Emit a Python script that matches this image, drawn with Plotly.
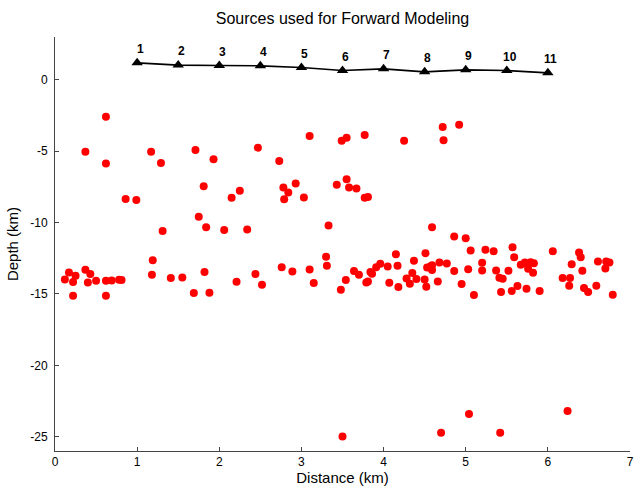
import plotly.graph_objects as go

# Source (station) positions along the surface
source_x = [1.0, 1.5, 2.0, 2.5, 3.0, 3.5, 4.0, 4.5, 5.0, 5.5, 6.0]
source_elev = [1.19, 1.03, 1.00, 0.98, 0.86, 0.65, 0.77, 0.56, 0.70, 0.65, 0.49]
source_labels = ["1", "2", "3", "4", "5", "6", "7", "8", "9", "10", "11"]

# Event (red dot) locations
event_x = [
    0.62, 0.37, 0.62, 1.17, 1.29, 1.71, 1.93, 1.81, 0.86, 0.99, 1.75, 1.84, 1.31,
    3.10, 2.47, 2.73, 3.49, 3.55, 3.77, 2.25, 2.15, 2.78, 2.84, 2.93, 2.79, 3.03,
    3.43, 3.55, 3.58, 3.67, 3.77, 3.81, 2.06, 2.34, 3.33,
    4.25, 4.72, 4.73, 4.92, 4.59, 4.86, 5.00,
    0.12, 0.17, 0.22, 0.25, 0.22, 0.37, 0.43, 0.40, 0.50, 0.62, 0.62, 0.69, 0.78,
    0.81, 1.19, 1.18, 1.41, 1.55, 1.69, 1.82, 1.88,
    2.21, 2.44, 2.52, 2.76, 2.89, 3.10, 3.15, 3.30, 3.31, 3.48, 3.54, 3.64, 3.70,
    3.79, 3.81, 3.84, 3.86, 3.91,
    3.96, 4.05, 4.07, 4.15, 4.17, 4.18, 4.28, 4.32, 4.35, 4.37, 4.40, 4.50, 4.52,
    4.51, 4.53, 4.57, 4.59, 4.59, 4.66, 4.68, 4.77, 4.86, 4.95, 5.03, 5.06, 5.10,
    5.20, 5.20, 5.24, 5.34, 5.37, 5.41, 5.45, 5.43, 5.52, 5.56, 5.57, 5.59, 5.63,
    5.67, 5.72, 5.74, 5.75, 5.76, 5.79, 5.82, 5.83,
    6.06, 6.38, 6.40, 6.29, 6.42, 6.18, 6.27, 6.26, 5.90, 6.44, 6.49, 6.59, 6.61,
    6.71, 6.75, 6.70, 6.79,
    3.50, 4.70, 5.04, 5.42, 6.24,
]
event_depth = [
    -2.58, -5.03, -5.86, -5.03, -5.82, -4.91, -5.56, -7.45, -8.35, -8.42, -9.59, -10.33, -10.59,
    -3.93, -4.75, -5.68, -4.26, -4.05, -3.86, -7.77, -8.26, -7.54, -7.89, -7.26, -8.37, -8.24,
    -7.35, -6.96, -7.54, -7.61, -8.26, -8.21, -10.52, -10.49, -10.21,
    -4.26, -3.31, -4.24, -3.14, -10.33, -10.98, -11.10,
    -13.98, -13.50, -14.17, -13.73, -15.12, -13.31, -13.61, -14.19, -14.08, -14.08, -15.12, -14.05, -14.01,
    -14.03, -12.63, -13.66, -13.89, -13.84, -14.94, -13.47, -14.91,
    -14.15, -13.61, -14.35, -13.12, -13.42, -13.28, -14.24, -12.40, -13.03, -14.70, -14.03, -13.40, -13.66,
    -14.19, -14.12, -13.47, -13.59, -13.12,
    -12.89, -13.07, -14.21, -12.21, -13.03, -14.52, -13.91, -14.28, -13.54, -12.68, -13.96, -13.98, -14.49,
    -12.14, -13.15, -13.07, -12.98, -13.33, -14.12, -12.80, -12.87, -13.40, -14.31, -13.26, -11.96, -15.07,
    -12.82, -13.35, -11.91, -12.00, -13.35, -13.87, -13.94, -14.87, -13.38, -14.80, -11.72, -12.42, -14.45,
    -12.96, -12.80, -14.63, -12.91, -13.24, -12.77, -13.52, -12.84,
    -12.00, -12.10, -12.42, -12.91, -13.38, -13.89, -13.89, -14.42, -14.80, -14.59, -14.87, -14.42, -12.73,
    -12.73, -12.80, -13.22, -15.05,
    -24.98, -24.73, -23.40, -24.73, -23.20,
]

x_ticks = [0, 1, 2, 3, 4, 5, 6, 7]
y_ticks = [0, -5, -10, -15, -20, -25]
y_tick_labels = ["0", "-5", "-10", "-15", "-20", "-25"]

FONT = "Liberation Sans, Arial, Helvetica, sans-serif"

fig = go.Figure()

fig.add_trace(go.Scatter(
    x=event_x, y=event_depth, mode="markers",
    marker=dict(color="#ff0000", size=8, line=dict(width=0)),
    showlegend=False, hoverinfo="x+y",
))

fig.add_trace(go.Scatter(
    x=source_x, y=source_elev, mode="lines+markers",
    line=dict(color="black", width=1.6),
    marker=dict(symbol="triangle-up", color="black", size=10),
    showlegend=False, hoverinfo="x+y",
))

for sx, sy, lab in zip(source_x, source_elev, source_labels):
    fig.add_annotation(
        x=sx, y=sy, text="<b>" + lab + "</b>", showarrow=False,
        xanchor="center", yanchor="middle", xshift=3, yshift=14,
        font=dict(family=FONT, size=12, color="black"),
    )

fig.update_layout(
    width=634, height=493,
    margin=dict(l=55, r=4, t=37, b=42),
    paper_bgcolor="white", plot_bgcolor="white",
    font=dict(family=FONT, size=12, color="black"),
    title=dict(text="Sources used for Forward Modeling", x=342.5 / 634, xanchor="center",
               y=1 - 18 / 493, yanchor="middle", yref="container",
               font=dict(family=FONT, size=16, color="black")),
    xaxis=dict(
        range=[0, 7], tickvals=x_ticks, ticks="inside", ticklen=4, tickcolor="#444",
        showline=True, linecolor="#444", linewidth=1, showgrid=False, zeroline=False,
        automargin=False,
        title=dict(text="Distance (km)", font=dict(family=FONT, size=15), standoff=2),
        tickfont=dict(family=FONT, size=12),
    ),
    yaxis=dict(
        range=[-26, 3], tickvals=y_ticks, ticktext=y_tick_labels, ticks="inside", ticklen=4,
        tickcolor="#444", showline=True, linecolor="#444", linewidth=1, showgrid=False,
        zeroline=False, ticklabelstandoff=4, automargin=False,
        title=dict(text="Depth (km)", font=dict(family=FONT, size=15), standoff=8),
        tickfont=dict(family=FONT, size=12),
    ),
)

fig.write_html("out.html", config={"displayModeBar": False},
               post_script="document.body.style.margin='0';")
